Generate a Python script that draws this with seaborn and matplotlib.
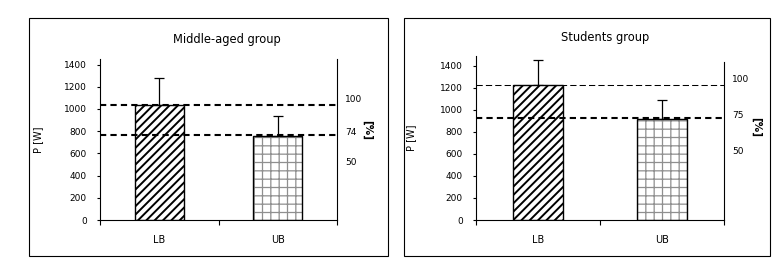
import numpy as np
import pandas as pd
import matplotlib
matplotlib.use("Agg")
import matplotlib.pyplot as plt
from matplotlib.patches import Rectangle
import seaborn as sns

# ---------------- data ----------------
categories = ["LB", "UB"]

mid_title = "Middle-aged group"
mid_values = [1035, 755]
mid_errors = [248, 186]
mid_ref_lines = [1035, 766]
mid_pct_ticks = [50, 74, 100]
mid_pct_range = [4.0, 131.0]
mid_y_max = 1450

stu_title = "Students group"
stu_values = [1225, 920]
stu_errors = [233, 169]
stu_ref_lines = [1225, 930]
stu_pct_ticks = [50, 75, 100]
stu_pct_range = [1.7, 115.6]
stu_y_max = 1490

pct_tick_marks = [50]
y_ticks = [0, 200, 400, 600, 800, 1000, 1200, 1400]

# ---------------- style ----------------
sns.set_theme(style="white")
plt.rcParams["font.family"] = ["DejaVu Sans"]
plt.rcParams["hatch.linewidth"] = 1.4

W, H = 780, 266
fig = plt.figure(figsize=(W / 100, H / 100), dpi=100)
fig.patch.set_facecolor("white")


def px_rect(x0, y0, x1, y1):
    return [x0 / W, 1 - y1 / H, (x1 - x0) / W, (y1 - y0) / H]


def panel(rect_ax, rect_frame, title, title_xy, values, errors, ref_lines,
          ref_widths, pct_ticks, pct_range, y_max, spine_top_pct, pct_label_y):
    fx0, fy0, fx1, fy1 = rect_frame
    fig.add_artist(Rectangle((fx0 / W, 1 - fy1 / H), (fx1 - fx0) / W, (fy1 - fy0) / H,
                             transform=fig.transFigure, fill=False,
                             edgecolor="black", linewidth=0.8))
    ax = fig.add_axes(px_rect(*rect_ax))
    df = pd.DataFrame({"cat": categories, "val": values})
    # hatched fill
    sns.barplot(data=df, x="cat", y="val", ax=ax, width=0.41,
                color="white", errorbar=None, linewidth=0, zorder=2)
    hatches = ["////", "++"]
    hcolors = ["black", "#8f8f8f"]
    hlw = [1.4, 0.9]
    for p, h, c, lw in zip(ax.patches, hatches, hcolors, hlw):
        p.set_facecolor("white")
        p.set_hatch(h)
        p.set_edgecolor(c)
        p.set_linewidth(0)
        if hasattr(p, "set_hatch_linewidth"):
            p.set_hatch_linewidth(lw)
    # outlines
    sns.barplot(data=df, x="cat", y="val", ax=ax, width=0.41,
                facecolor="none", edgecolor="black", errorbar=None,
                linewidth=1.0, zorder=3)
    # upper error bars
    ax.errorbar(x=np.arange(len(values)), y=values,
                yerr=[np.zeros(len(errors)), errors], fmt="none",
                ecolor="black", elinewidth=0.9, capsize=3.6, capthick=0.9,
                zorder=1)
    # dashed reference lines
    for v, lw in zip(ref_lines, ref_widths):
        ax.axhline(v, color="black", linewidth=lw,
                   dashes=(3, 2) if lw > 1 else (6, 3), zorder=4)

    ax.set_xlim(-0.5, 1.5)
    ax.set_ylim(0, y_max)
    ax.set_yticks(y_ticks)
    ax.set_yticklabels([str(t) for t in y_ticks])
    ax.set_xticks([-0.5, 0.5, 1.5])
    ax.set_xticklabels(["", "", ""])
    ax.set_xticks([0, 1], labels=categories, minor=True)
    ax.tick_params(axis="x", which="major", direction="out", length=3.6, width=0.8,
                   colors="black", bottom=True)
    ax.tick_params(axis="x", which="minor", length=0, pad=11, labelsize=7,
                   labelcolor="black")
    ax.tick_params(axis="y", direction="out", length=2.4, width=0.8, pad=7,
                   labelsize=6.5, labelcolor="black", left=True, colors="black")
    ax.set_xlabel("")
    ax.set_ylabel("P [W]", fontsize=7, color="black")
    ax.yaxis.set_label_coords(-0.24, 0.5)
    for s in ["top", "right"]:
        ax.spines[s].set_visible(False)
    for s in ["left", "bottom"]:
        ax.spines[s].set_color("black")
        ax.spines[s].set_linewidth(0.8)
    ax.set_facecolor("none")
    ax.grid(False)

    # secondary percentage axis
    ax2 = ax.twinx()
    ax2.set_ylim(*pct_range)
    ax2.set_yticks(pct_ticks)
    ax2.set_yticklabels([str(t) for t in pct_ticks])
    ax2.set_yticks(pct_tick_marks, minor=True)
    ax2.tick_params(axis="y", which="major", length=0, pad=6,
                    labelsize=6.5, labelcolor="black", right=True)
    ax2.tick_params(axis="y", which="minor", direction="in", length=2.6, width=0.8,
                    colors="black", right=True)
    for s in ["top", "left", "bottom"]:
        ax2.spines[s].set_visible(False)
    ax2.spines["right"].set_color("black")
    ax2.spines["right"].set_linewidth(0.8)
    ax2.spines["right"].set_bounds(pct_range[0], spine_top_pct)
    ax2.set_ylabel("[%]", fontsize=7.5, fontweight="bold", rotation=270,
                   color="black")
    ax2.yaxis.set_label_coords(1.15, pct_label_y)
    ax2.grid(False)

    fig.text(title_xy[0] / W, 1 - title_xy[1] / H, title, ha="center",
             va="center", fontsize=8.3, color="black")
    return ax


panel((100, 59, 337, 220), (29, 18, 388, 256), mid_title, (227, 39),
      mid_values, mid_errors, mid_ref_lines, [1.5, 1.5], mid_pct_ticks,
      mid_pct_range, mid_y_max, mid_pct_range[1], 0.56)
panel((476, 56, 724, 220), (404, 18, 770, 256), stu_title, (605, 37),
      stu_values, stu_errors, stu_ref_lines, [0.75, 1.5], stu_pct_ticks,
      stu_pct_range, stu_y_max, 111.4, 0.57)

fig.savefig("out.png", dpi=100, facecolor="white")
